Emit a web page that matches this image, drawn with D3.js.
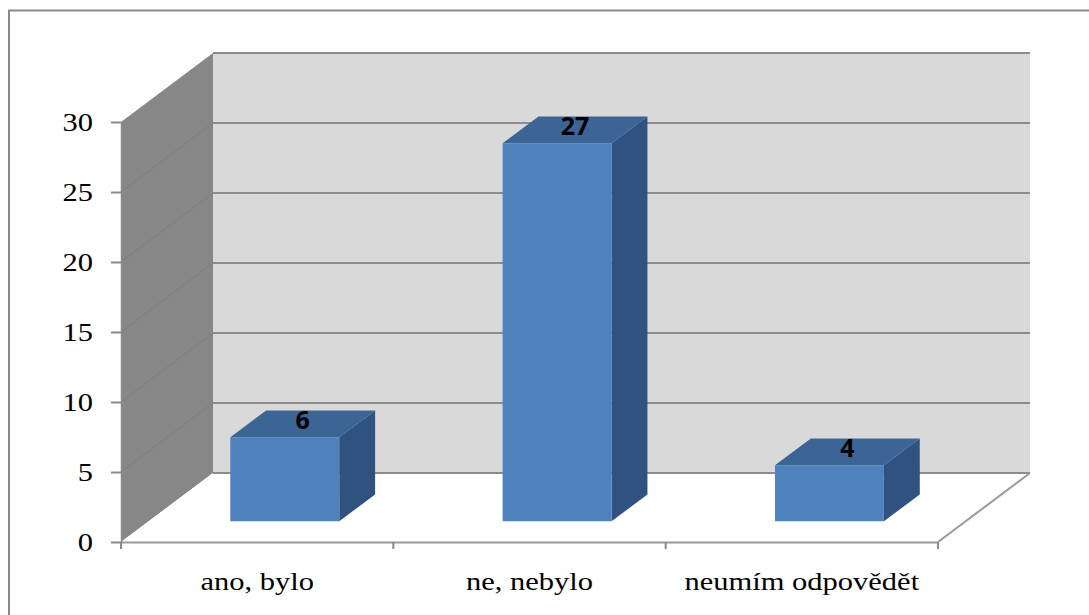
<!DOCTYPE html>
<html>
<head>
<meta charset="utf-8">
<script src="https://cdn.jsdelivr.net/npm/d3@7"></script>
<style>
  html, body { margin: 0; padding: 0; background: #fff; }
  svg { display: block; }
</style>
</head>
<body>
<svg id="chart" width="1089" height="615"></svg>
<script>
// Survey answers and counts
const categories = ["ano, bylo", "ne, nebylo", "neumím odpovědět"];
const counts = [6, 27, 4];
const yTicks = [0, 5, 10, 15, 20, 25, 30];

const svg = d3.select("#chart");
const serifFont = '"Liberation Serif"';
const valueFont = '"Open Sans"';
const stretch = 1.22; // axis text is set slightly wide

// Front plane of the 3D box
const x = d3.scaleBand().domain(categories).range([121, 938]).paddingInner(0).paddingOuter(0);
const y = d3.scaleLinear().domain([0, 30]).range([542, 122]);

// Depth direction: full depth shifts right and up
const depthX = 92, depthY = -69;
function proj(px, v, z) { return [px + z * depthX, y(v) + z * depthY]; }

// Bar geometry relative to its category band
const barWidthFrac = 0.40;
const zFront = 0.30, zBack = 0.69;

const poly = pts => pts.map(p => p.join(",")).join(" ");

// Outer chart frame
svg.append("rect")
  .attr("x", 9).attr("y", 10.5)
  .attr("width", 1200).attr("height", 800)
  .attr("fill", "none").attr("stroke", "#8a8a8a").attr("stroke-width", 2);

const x0 = x.range()[0], x1 = x.range()[1];
const vMax = y.domain()[1];

// Back wall
svg.append("polygon")
  .attr("points", poly([proj(x0, 0, 1), proj(x0, vMax, 1), proj(x1, vMax, 1), proj(x1, 0, 1)]))
  .attr("fill", "#d9d9d9");

// Left side wall
svg.append("polygon")
  .attr("points", poly([proj(x0, 0, 0), proj(x0, vMax, 0), proj(x0, vMax, 1), proj(x0, 0, 1)]))
  .attr("fill", "#878787");

// Floor
svg.append("polygon")
  .attr("points", poly([proj(x0, 0, 0), proj(x1, 0, 0), proj(x1, 0, 1), proj(x0, 0, 1)]))
  .attr("fill", "#ffffff");

// Gridlines on the back wall and the side wall
yTicks.forEach(t => {
  const a = proj(x0, t, 1), b = proj(x1, t, 1);
  svg.append("line")
    .attr("x1", a[0]).attr("y1", a[1]).attr("x2", b[0]).attr("y2", b[1])
    .attr("stroke", "#8c8c8c").attr("stroke-width", 2);
  if (t > 0 && t < vMax) {
    const c = proj(x0, t, 0);
    svg.append("line")
      .attr("x1", c[0]).attr("y1", c[1]).attr("x2", a[0]).attr("y2", a[1])
      .attr("stroke", "#7d7d7d").attr("stroke-width", 1);
  }
});

// Right floor edge
const fr0 = proj(x1, 0, 0), fr1 = proj(x1, 0, 1);
svg.append("line")
  .attr("x1", fr0[0]).attr("y1", fr0[1]).attr("x2", fr1[0]).attr("y2", fr1[1])
  .attr("stroke", "#9a9a9a").attr("stroke-width", 2);

// Bars, each as front, top and side faces
counts.forEach((v, i) => {
  const band = x(categories[i]);
  const bw = x.bandwidth() * barWidthFrac;
  const cx = band + x.bandwidth() / 2;
  const left = cx - bw / 2, right = cx + bw / 2;

  const fl0 = proj(left, 0, zFront), fr = proj(right, 0, zFront);
  const tl = proj(left, v, zFront), tr = proj(right, v, zFront);
  const btl = proj(left, v, zBack), btr = proj(right, v, zBack);
  const bbr = proj(right, 0, zBack);

  const g = svg.append("g");
  g.append("polygon").attr("points", poly([fr, tr, btr, bbr])).attr("fill", "#2f5280");
  g.append("polygon").attr("points", poly([tl, tr, btr, btl])).attr("fill", "#3c6595");
  g.append("polygon").attr("points", poly([fl0, tl, tr, fr])).attr("fill", "#4f81bd");

  // Value label on the top face
  const zMid = (zFront + zBack) / 2;
  const lp = proj(cx, v, zMid);
  svg.append("text")
    .attr("x", lp[0]).attr("y", lp[1] + 5)
    .attr("text-anchor", "middle")
    .style("font-family", valueFont)
    .style("font-weight", "bold")
    .style("font-size", "25px")
    .style("fill", "#000")
    .text(v);
});

// Category axis along the front floor edge
const xAxis = d3.axisBottom(x).tickSize(0).tickSizeOuter(0);
const gx = svg.append("g").attr("transform", `translate(0,${y(0)})`).call(xAxis)
  .attr("font-family", "Liberation Serif").attr("font-size", 25);
gx.select(".domain").attr("stroke", "#9a9a9a").attr("stroke-width", 2);
gx.selectAll(".tick text")
  .attr("dy", null).attr("y", 48)
  .attr("transform", `scale(${stretch},1)`)
  .style("font-family", serifFont).style("font-size", "25px").style("fill", "#000");
// Category boundary ticks
const bounds = categories.map(c => x(c)).concat([x1]);
gx.selectAll(".bound").data(bounds).join("line")
  .attr("class", "bound")
  .attr("x1", d => d).attr("x2", d => d)
  .attr("y1", 0).attr("y2", 7)
  .attr("stroke", "#8a8a8a").attr("stroke-width", 2);

// Value axis on the front edge of the side wall
const yAxis = d3.axisLeft(y).tickValues(yTicks).tickSize(10).tickSizeOuter(0).tickPadding(18);
const gy = svg.append("g").attr("transform", `translate(${x0},0)`).call(yAxis)
  .attr("font-family", "Liberation Serif").attr("font-size", 25);
gy.select(".domain").attr("stroke", "#8a8a8a").attr("stroke-width", 1.5);
gy.selectAll(".tick line").attr("stroke", "#8a8a8a").attr("stroke-width", 2);
gy.selectAll(".tick text")
  .attr("x", -28 / stretch)
  .attr("dy", "0.34em")
  .attr("transform", `scale(${stretch},1)`)
  .style("font-family", serifFont).style("font-size", "25px").style("fill", "#000");
</script>
</body>
</html>
